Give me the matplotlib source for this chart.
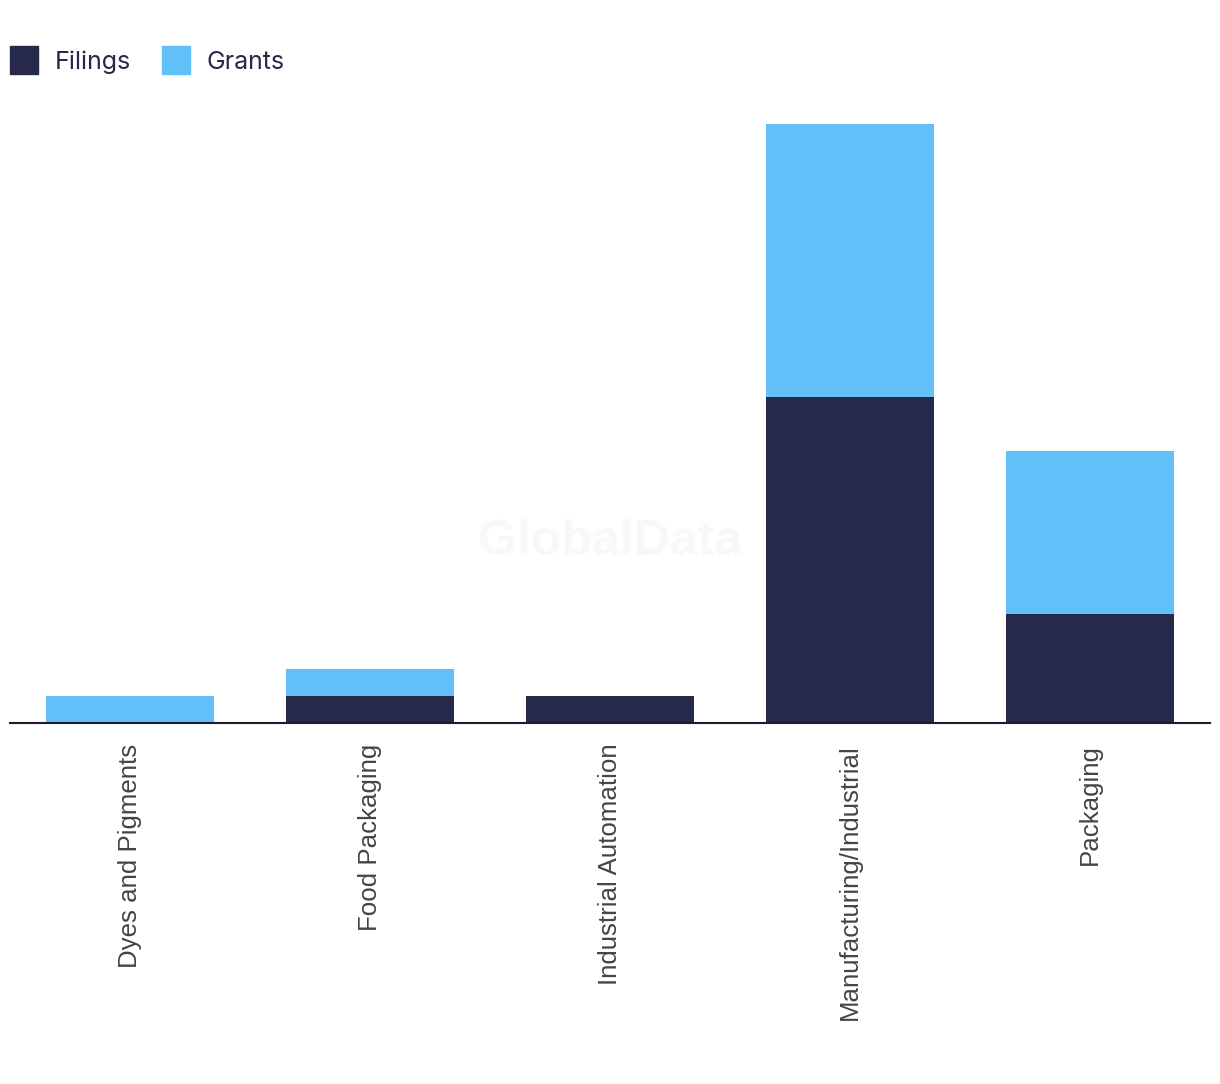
import matplotlib
matplotlib.use("Agg")
import matplotlib.pyplot as plt
from matplotlib.patches import Rectangle

categories = ["Dyes and Pigments", "Food Packaging", "Industrial Automation",
              "Manufacturing/Industrial", "Packaging"]
filings = [0, 1, 1, 12, 4]
grants = [1, 1, 0, 10, 6]
series_names = ["Filings", "Grants"]

c_fil = "#262949"
c_gra = "#62C0F8"

W, H = 1220, 1084
fig = plt.figure(figsize=(W / 100, H / 100), dpi=100)
ax = fig.add_axes([10 / W, 1 - 723 / H, 1200 / W, 623 / H])

x = list(range(len(categories)))
ax.bar(x, filings, width=0.7, color=c_fil, zorder=2)
ax.bar(x, grants, width=0.7, bottom=filings, color=c_gra, zorder=2)

ax.set_xlim(-0.5, len(categories) - 0.5)
ax.set_ylim(0, 22.9)
ax.set_yticks([])
ax.set_xticks(x)
ax.set_xticklabels(categories, rotation=90, fontsize=18.6, color="#444444",
                   family=["Liberation Sans", "DejaVu Sans"], va="top")
ax.tick_params(axis="x", length=0, pad=15)
for s in ["top", "right", "left"]:
    ax.spines[s].set_visible(False)
ax.spines["bottom"].set_color("#1c1c2c")
ax.spines["bottom"].set_linewidth(1.5)
ax.spines["bottom"].set_zorder(3)

fig.text(610 / W, 1 - 542 / H, "GlobalData", fontsize=36, fontweight="bold",
         color="#f8f8f8", ha="center", va="center",
         family=["Liberation Sans", "DejaVu Sans"], zorder=0)

# legend drawn manually
for name, col, sx, tx in zip(series_names, [c_fil, c_gra], [10, 162], [55, 206]):
    fig.add_artist(Rectangle((sx / W, 1 - 74 / H), 28 / W, 28 / H,
                             transform=fig.transFigure, color=col))
    fig.text(tx / W, 1 - 60 / H, name, fontsize=18, color="#262949",
             ha="left", va="center_baseline",
             family=["Inter", "DejaVu Sans"])

fig.savefig("out.png", dpi=100, facecolor="white")
